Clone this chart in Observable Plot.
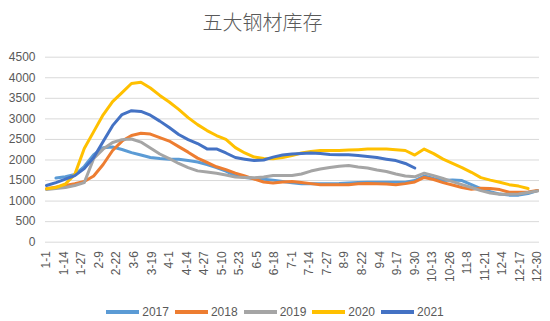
<!DOCTYPE html>
<html><head><meta charset="utf-8">
<script src="https://cdn.jsdelivr.net/npm/d3@7"></script>
<script src="https://cdn.jsdelivr.net/npm/@observablehq/plot@0.6"></script>
<style>
body{margin:0;background:#fff;width:550px;height:321px;overflow:hidden;font-family:"Liberation Sans",Arial,sans-serif;}
#title{height:40px;line-height:44px;text-align:center;font-family:"Noto Sans CJK SC",sans-serif;font-size:20px;color:#595959;font-weight:300;padding-right:25px;}
#chart svg{display:block;}
#legend{display:flex;justify-content:center;align-items:center;height:24px;margin-top:5px;font-size:12px;color:#595959;}
.item{display:flex;align-items:center;margin:0 3px;}
.sw{width:33px;height:4px;margin-right:3px;}
</style></head>
<body>
<div id="title">五大钢材库存</div>
<div id="chart"></div>
<div id="legend"></div>
<script>
const years = ["2017","2018","2019","2020","2021"];
const colors = ["#5B9BD5","#ED7D31","#A5A5A5","#FFC000","#4472C4"];
const yTicks = [0,500,1000,1500,2000,2500,3000,3500,4000,4500];
const tickLabels = ["1-1","1-14","1-27","2-9","2-22","3-6","3-19","4-1","4-14","4-27","5-10","5-23","6-5","6-18","7-1","7-14","7-27","8-9","8-22","9-4","9-17","9-30","10-13","10-26","11-8","11-21","12-4","12-17","12-30"];
// weekly observation days (days since Jan 1)
const weeks = d3.range(0, 365, 7);
const v2017 = [null,1560,1590,1645,1840,2130,2300,2315,2255,2180,2120,2060,2035,2020,2020,1985,1950,1890,1815,1730,1620,1575,1550,1530,1510,1475,1445,1420,1420,1420,1420,1425,1440,1450,1460,1460,1460,1460,1460,1500,1610,1550,1500,1510,1500,1400,1305,1230,1170,1145,1145,1185,1255];
const v2018 = [1300,1340,1380,1420,1475,1610,1890,2230,2460,2595,2650,2630,2545,2460,2325,2190,2045,1940,1835,1765,1680,1610,1535,1465,1440,1465,1475,1450,1425,1400,1400,1400,1400,1420,1425,1420,1415,1400,1425,1465,1575,1525,1450,1390,1330,1285,1310,1305,1280,1215,1215,1220,1260];
const v2019 = [1280,1305,1330,1380,1450,2035,2265,2425,2495,2510,2435,2290,2145,2035,1915,1815,1735,1705,1675,1635,1585,1575,1565,1585,1620,1620,1620,1660,1730,1780,1815,1850,1865,1830,1805,1755,1720,1660,1610,1590,1680,1620,1550,1475,1400,1330,1255,1195,1165,1165,1170,1210,1245];
const v2020 = [1300,1330,1415,1650,2280,2690,3100,3420,3640,3860,3890,3750,3570,3410,3230,3030,2860,2715,2595,2500,2300,2170,2070,2035,2030,2060,2110,2170,2205,2230,2230,2230,2240,2250,2265,2270,2265,2250,2230,2120,2265,2155,2020,1915,1815,1700,1570,1510,1460,1400,1365,1305,null];
const v2021 = [1380,1450,1535,1620,1790,2060,2450,2835,3105,3200,3180,3090,2945,2790,2620,2495,2400,2270,2270,2170,2060,2020,1985,2000,2070,2120,2145,2160,2170,2155,2135,2125,2125,2110,2085,2060,2020,1985,1915,1805,null,null,null,null,null,null,null,null,null,null,null,null,null];

const series = [v2017, v2018, v2019, v2020, v2021];
const tickDays = tickLabels.map((_, i) => i * 13);
const data = years.flatMap((yr, j) =>
  series[j].map((v, k) => ({year: yr, day: weeks[k], value: v})).filter(d => d.value != null));

const chart = Plot.plot({
  width: 550, height: 255,
  marginTop: 16.7, marginBottom: 53.3, marginLeft: 45, marginRight: 11,
  x: {domain: [0, 364], range: [46, 537]},
  y: {domain: [0, 4500]},
  color: {domain: years, range: colors},
  style: {fontFamily: "'Liberation Sans', Arial, sans-serif", fontSize: "12px", color: "#595959", background: "#fff"},
  marks: [
    Plot.gridY(yTicks, {stroke: "#d9d9d9", strokeOpacity: 1}),
    Plot.axisY(yTicks, {tickSize: 0, tickPadding: 10, label: null, tickFormat: d => String(d)}),
    Plot.axisX(tickDays, {tickSize: 0, tickPadding: 9, tickRotate: -90, label: null,
      tickFormat: d => tickLabels[tickDays.indexOf(d)]}),
    Plot.line(data, {x: "day", y: "value", z: "year", stroke: "year", strokeWidth: 3, strokeLinejoin: "round", strokeLinecap: "round"})
  ]
});
document.getElementById("chart").appendChild(chart);

const leg = document.getElementById("legend");
years.forEach((yr, i) => {
  const it = document.createElement("div");
  it.className = "item";
  it.innerHTML = `<span class="sw" style="background:${colors[i]}"></span><span>${yr}</span>`;
  leg.appendChild(it);
});
</script>
</body></html>
